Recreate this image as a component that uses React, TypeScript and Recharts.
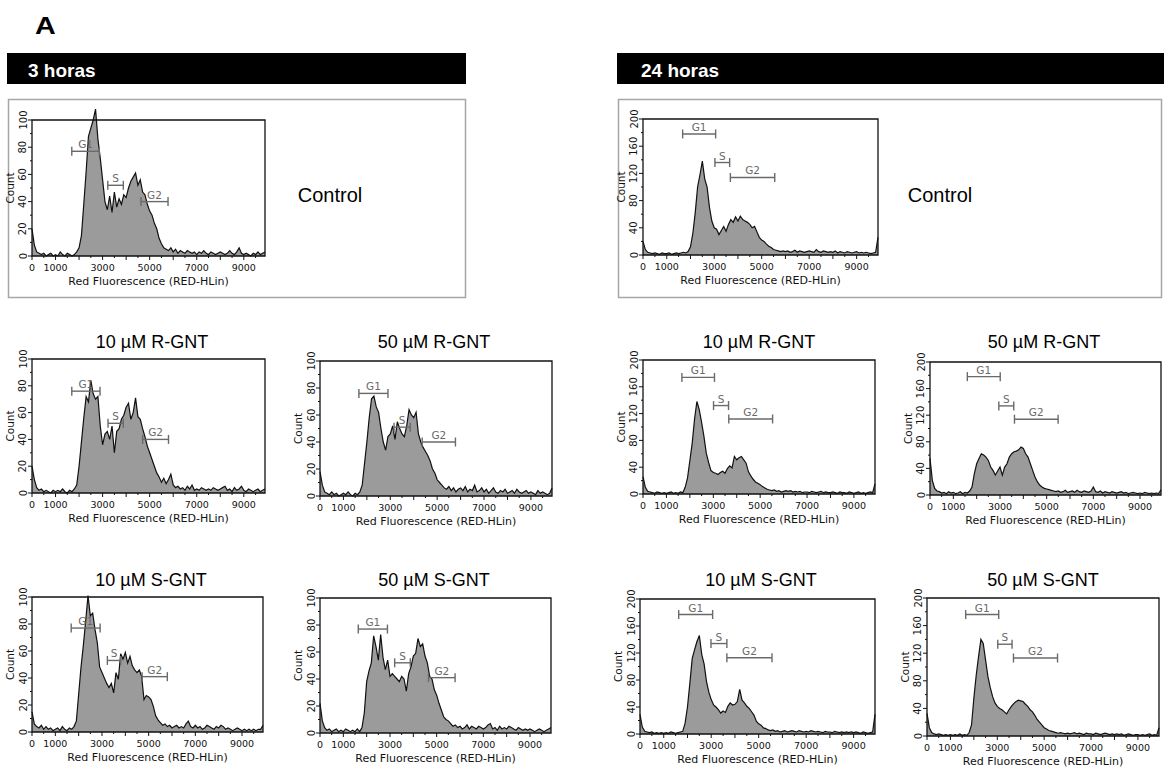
import React from 'react';
import { ComposedChart, Area, XAxis, YAxis, ReferenceArea, ReferenceLine } from 'recharts';

// ---------- shared axis data ----------
const CHANNELS = [
  0, 100, 200, 300, 400, 500, 600, 700, 800, 900,
  1000, 1100, 1200, 1300, 1400, 1500, 1600, 1700, 1800, 1900,
  2000, 2100, 2200, 2300, 2400, 2500, 2600, 2700, 2800, 2900,
  3000, 3100, 3200, 3300, 3400, 3500, 3600, 3700, 3800, 3900,
  4000, 4100, 4200, 4300, 4400, 4500, 4600, 4700, 4800, 4900,
  5000, 5100, 5200, 5300, 5400, 5500, 5600, 5700, 5800, 5900,
  6000, 6100, 6200, 6300, 6400, 6500, 6600, 6700, 6800, 6900,
  7000, 7100, 7200, 7300, 7400, 7500, 7600, 7700, 7800, 7900,
  8000, 8100, 8200, 8300, 8400, 8500, 8600, 8700, 8800, 8900,
  9000, 9100, 9200, 9300, 9400, 9500, 9600, 9700, 9800, 9900,
];
const X_MAX = 9900;
const X_TICKS = [0, 500, 1000, 1500, 2000, 2500, 3000, 3500, 4000, 4500, 5000, 5500, 6000, 6500, 7000, 7500, 8000, 8500, 9000, 9500];
const X_TICK_LABELS = [0, 1000, 3000, 5000, 7000, 9000];
const Y_TICKS_3H = [0, 10, 20, 30, 40, 50, 60, 70, 80, 90, 100];
const Y_TICKS_24H = [0, 20, 40, 60, 80, 100, 120, 140, 160, 180, 200];
const X_LABEL = 'Red Fluorescence (RED-HLin)';
const Y_LABEL = 'Count';

// ---------- histogram counts (one value per channel) ----------
const control3h = [
  20, 8, 3, 2, 1, 2, 0, 1, 2, 0,
  1, 0, 3, 1, 0, 2, 1, 0, 1, 3,
  6, 15, 38, 62, 88, 94, 100, 108, 86, 72,
  56, 40, 34, 44, 32, 47, 36, 42, 38, 45,
  43, 50, 55, 58, 61, 52, 56, 47, 45, 38,
  33, 30, 24, 20, 13, 9, 6, 5, 4, 6,
  3, 5, 2, 4, 3, 2, 4, 3, 2, 3,
  1, 3, 2, 4, 2, 1, 3, 2, 1, 2,
  3, 2, 1, 2, 4, 2, 1, 3, 6, 2,
  1, 2, 1, 0, 2, 1, 3, 1, 2, 3,
];
const control24h = [
  20, 8, 4, 3, 2, 3, 2, 1, 3, 2,
  2, 3, 1, 2, 3, 2, 3, 4, 3, 5,
  12, 32, 62, 100, 118, 138, 112, 100, 70, 50,
  40, 38, 30, 36, 42, 35, 45, 52, 48, 56,
  50, 57, 52, 50, 48, 45, 40, 42, 34, 26,
  22, 20, 16, 13, 11, 8, 7, 6, 5, 6,
  5, 6, 4, 5, 7, 4, 6, 5, 4, 5,
  6, 5, 4, 8, 5, 4, 6, 5, 4, 5,
  4, 6, 3, 5, 4, 3, 5, 4, 3, 4,
  5, 3, 4, 3, 4, 3, 2, 3, 4, 26,
];
const r10_3h = [
  20, 10, 4, 2, 3, 1, 2, 1, 0, 2,
  1, 2, 1, 3, 1, 0, 2, 1, 3, 6,
  20, 38, 56, 72, 68, 84, 74, 70, 72, 50,
  36, 44, 46, 40, 50, 30, 46, 48, 55, 58,
  64, 67, 55, 60, 71, 57, 55, 48, 42, 35,
  30, 25, 20, 15, 12, 8, 11, 7, 10, 14,
  6, 4, 5, 3, 4, 2, 5, 3, 6, 2,
  3, 2, 4, 3, 2, 3, 2, 4, 3, 2,
  3, 4, 5, 2, 3, 1, 4, 2, 3, 5,
  2, 1, 3, 2, 1, 2, 3, 1, 2, 3,
];
const r50_3h = [
  18, 8, 3, 2, 1, 3, 1, 2, 0, 1,
  2, 1, 3, 1, 0, 2, 1, 3, 8, 24,
  40, 58, 72, 74, 66, 62, 50, 40, 34, 44,
  46, 52, 42, 55, 50, 46, 44, 52, 64, 60,
  58, 62, 46, 40, 36, 33, 30, 26, 20, 17,
  12, 10, 8, 6, 5, 7, 4, 6, 3, 5,
  6, 4, 7, 3, 5, 4, 8, 3, 4, 6,
  3, 5, 2, 4, 6, 3, 2, 4, 3, 5,
  2, 3, 4, 2, 5, 3, 2, 3, 4, 2,
  3, 2, 1, 4, 2, 3, 2, 1, 2, 6,
];
const s10_3h = [
  15, 6, 4, 3, 5, 2, 4, 2, 3, 1,
  2, 3, 1, 4, 2, 1, 3, 2, 4, 8,
  28, 48, 64, 82, 101, 86, 88, 76, 66, 48,
  44, 40, 36, 33, 36, 29, 44, 39, 58, 54,
  59, 51, 56, 49, 46, 44, 46, 41, 24, 27,
  26, 24, 19, 12, 9, 7, 5, 6, 4, 5,
  3, 4, 5, 3, 4, 3, 6, 8, 4, 3,
  5, 3, 4, 2, 3, 5, 4, 3, 2, 4,
  3, 5, 4, 2, 3, 2, 1, 2, 3, 2,
  1, 2, 1, 2, 1, 2, 1, 2, 2, 5,
];
const s50_3h = [
  22, 9, 4, 2, 3, 1, 2, 3, 1, 2,
  1, 3, 2, 1, 2, 1, 3, 1, 4, 15,
  38, 46, 52, 72, 64, 54, 73, 56, 47, 54,
  42, 44, 42, 40, 38, 42, 40, 31, 44, 49,
  57, 59, 70, 64, 66, 57, 52, 42, 40, 32,
  28, 22, 17, 12, 10, 9, 7, 5, 6, 4,
  5, 3, 4, 6, 3, 5, 4, 3, 5, 4,
  3, 4, 6, 7, 3, 4, 2, 5, 3, 4,
  3, 5, 4, 3, 2, 4, 3, 2, 3, 2,
  3, 2, 1, 2, 3, 2, 1, 2, 3, 4,
];
const r10_24h = [
  26, 10, 4, 3, 2, 1, 3, 2, 1, 2,
  1, 2, 3, 1, 2, 1, 3, 2, 10, 24,
  50, 76, 112, 138, 126, 107, 86, 61, 47, 35,
  32, 31, 29, 32, 34, 31, 38, 42, 39, 56,
  51, 54, 56, 51, 46, 33, 27, 22, 18, 16,
  14, 11, 9, 7, 6, 5, 6, 4, 5, 3,
  4, 5, 4, 5, 3, 4, 3, 4, 2, 3,
  3, 2, 4, 3, 2, 3, 4, 2, 3, 2,
  2, 3, 2, 1, 3, 2, 2, 1, 3, 2,
  1, 2, 3, 1, 2, 1, 2, 3, 2, 15,
];
const r50_24h = [
  55, 22, 10, 6, 5, 3, 4, 2, 5, 3,
  4, 2, 3, 5, 2, 4, 3, 6, 12, 32,
  47, 55, 62, 60, 57, 52, 42, 37, 30, 36,
  42, 30, 42, 47, 57, 62, 65, 66, 68, 72,
  70, 62, 57, 47, 37, 27, 20, 15, 12, 10,
  9, 8, 7, 6, 5, 6, 4, 5, 7, 4,
  5, 6, 4, 7, 5, 4, 6, 5, 4, 6,
  12, 5, 4, 6, 3, 5, 4, 3, 5, 4,
  3, 4, 5, 3, 4, 2, 3, 4, 3, 2,
  3, 2, 4, 3, 2, 3, 2, 3, 2, 8,
];
const s10_24h = [
  29, 10, 4, 3, 2, 3, 1, 2, 1, 2,
  1, 2, 1, 3, 2, 1, 2, 3, 4, 16,
  40, 75, 112, 125, 137, 146, 118, 104, 78, 62,
  51, 43, 40, 36, 31, 34, 32, 41, 46, 43,
  44, 48, 66, 50, 46, 41, 38, 33, 28, 19,
  15, 13, 9, 8, 6, 5, 6, 4, 5, 3,
  4, 5, 3, 4, 5, 4, 3, 5, 4, 3,
  4, 3, 5, 4, 3, 4, 3, 2, 4, 3,
  3, 2, 4, 3, 2, 3, 2, 3, 2, 3,
  2, 3, 2, 1, 3, 2, 1, 2, 3, 29,
];
const s50_24h = [
  33, 12, 5, 3, 2, 3, 2, 1, 2, 1,
  2, 1, 2, 1, 3, 1, 2, 1, 5, 16,
  55, 88, 115, 140, 134, 110, 86, 70, 57, 48,
  43, 40, 38, 35, 32, 38, 43, 47, 50, 52,
  51, 50, 46, 43, 38, 35, 30, 24, 20, 16,
  12, 10, 8, 7, 6, 5, 4, 5, 4, 3,
  4, 3, 4, 5, 3, 4, 3, 2, 4, 3,
  3, 2, 4, 3, 2, 3, 4, 3, 2, 3,
  2, 3, 2, 3, 1, 2, 3, 2, 1, 2,
  2, 1, 2, 1, 2, 3, 1, 2, 1, 12,
];

// ---------- gate markers (from, to, level) ----------
type Gate = { name: string; from: number; to: number; y: number };
const gatesControl3h: Gate[] = [
  { name: 'G1', from: 1690, to: 2860, y: 77 },
  { name: 'S', from: 3220, to: 3880, y: 52 },
  { name: 'G2', from: 4630, to: 5780, y: 40 },
];
const gatesControl24h: Gate[] = [
  { name: 'G1', from: 1670, to: 3060, y: 178 },
  { name: 'S', from: 3030, to: 3650, y: 136 },
  { name: 'G2', from: 3680, to: 5550, y: 114 },
];
const gatesR10_3h: Gate[] = [
  { name: 'G1', from: 1690, to: 2890, y: 76 },
  { name: 'S', from: 3230, to: 3880, y: 52 },
  { name: 'G2', from: 4700, to: 5800, y: 40 },
];
const gatesR50_3h: Gate[] = [
  { name: 'G1', from: 1660, to: 2900, y: 76 },
  { name: 'S', from: 3160, to: 3850, y: 51 },
  { name: 'G2', from: 4360, to: 5780, y: 40 },
];
const gatesS10_3h: Gate[] = [
  { name: 'G1', from: 1680, to: 2920, y: 77 },
  { name: 'S', from: 3230, to: 3800, y: 53 },
  { name: 'G2', from: 4720, to: 5800, y: 41 },
];
const gatesS50_3h: Gate[] = [
  { name: 'G1', from: 1640, to: 2890, y: 77 },
  { name: 'S', from: 3200, to: 3870, y: 52 },
  { name: 'G2', from: 4650, to: 5790, y: 41 },
];
const gatesR10_24h: Gate[] = [
  { name: 'G1', from: 1660, to: 3050, y: 174 },
  { name: 'S', from: 3010, to: 3650, y: 132 },
  { name: 'G2', from: 3660, to: 5530, y: 112 },
];
const gatesR50_24h: Gate[] = [
  { name: 'G1', from: 1600, to: 3010, y: 178 },
  { name: 'S', from: 2950, to: 3590, y: 134 },
  { name: 'G2', from: 3620, to: 5490, y: 114 },
];
const gatesS10_24h: Gate[] = [
  { name: 'G1', from: 1630, to: 3060, y: 177 },
  { name: 'S', from: 2990, to: 3660, y: 134 },
  { name: 'G2', from: 3660, to: 5560, y: 113 },
];
const gatesS50_24h: Gate[] = [
  { name: 'G1', from: 1650, to: 3060, y: 176 },
  { name: 'S', from: 3020, to: 3630, y: 133 },
  { name: 'G2', from: 3690, to: 5570, y: 113 },
];

// ---------- text ----------
const FIGURE_LETTER = 'A';
const TIME_LABELS = ['3 horas', '24 horas'];
const CONTROL_LABEL = 'Control';
const TITLES = ['10 \u00B5M R-GNT', '50 \u00B5M R-GNT', '10 \u00B5M S-GNT', '50 \u00B5M S-GNT'];

// ---------- layout (pixels) ----------
const PANELS = [
  { values: control3h, gates: gatesControl3h, yMax: 100, left: 32, top: 120, w: 233, h: 136 },
  { values: control24h, gates: gatesControl24h, yMax: 200, left: 643, top: 119, w: 235, h: 136 },
  { values: r10_3h, gates: gatesR10_3h, yMax: 100, left: 32, top: 359, w: 233, h: 134 },
  { values: r50_3h, gates: gatesR50_3h, yMax: 100, left: 320, top: 361, w: 232, h: 135 },
  { values: r10_24h, gates: gatesR10_24h, yMax: 200, left: 643, top: 360, w: 232, h: 134 },
  { values: r50_24h, gates: gatesR50_24h, yMax: 200, left: 930, top: 362, w: 231, h: 133 },
  { values: s10_3h, gates: gatesS10_3h, yMax: 100, left: 32, top: 597, w: 231, h: 135 },
  { values: s50_3h, gates: gatesS50_3h, yMax: 100, left: 320, top: 598, w: 231, h: 135 },
  { values: s10_24h, gates: gatesS10_24h, yMax: 200, left: 640, top: 599, w: 235, h: 135 },
  { values: s50_24h, gates: gatesS50_24h, yMax: 200, left: 927, top: 598, w: 232, h: 138 },
];
const TITLE_POS = [
  { x: 152, y: 348 }, { x: 434, y: 348 }, { x: 759, y: 348 }, { x: 1044, y: 348 },
  { x: 151, y: 586 }, { x: 434, y: 586 }, { x: 761, y: 586 }, { x: 1043, y: 586 },
];
const TITLE_ORDER = [0, 1, 0, 1, 2, 3, 2, 3];

const AXIS_FONT = "'DejaVu Sans', Verdana, sans-serif";
const TEXT_FONT = "'Liberation Sans', Arial, sans-serif";
const INK = '#111111';
const GATE = '#6a6a6a';
const FILL = '#9b9b9b';

const ML = 30;
const MR = 1;
const MT = 2;
const MB = 36;
const HEAD = 14;

const XTick = (props: any) => {
  const { x, y, payload } = props;
  const v = payload.value as number;
  const major = v % 1000 === 0;
  return (
    <g>
      <line x1={x} x2={x} y1={y} y2={y + (major ? 4 : 2)} stroke={INK} strokeWidth={1} />
      {X_TICK_LABELS.includes(v) && (
        <text x={x} y={y + 14.5} textAnchor="middle" fontSize={9.5} fontFamily={AXIS_FONT} fill={INK}>
          {v}
        </text>
      )}
    </g>
  );
};

const makeYTick = (step: number) => (props: any) => {
  const { x, y, payload } = props;
  const v = payload.value as number;
  const major = v % step === 0;
  const tx = x - 9;
  return (
    <g>
      <line x1={x} x2={x - (major ? 4 : 2)} y1={y} y2={y} stroke={INK} strokeWidth={1} />
      {major && (
        <text
          x={tx}
          y={y}
          transform={`rotate(-90 ${tx} ${y})`}
          textAnchor="middle"
          dominantBaseline="central"
          fontSize={10}
          fontFamily={AXIS_FONT}
          fill={INK}
        >
          {v}
        </text>
      )}
    </g>
  );
};

function HistPanel({ p }: { p: any }) {
  const data = CHANNELS.map((c, i) => ({ x: c, count: p.values[i] }));
  const yTop = p.yMax * (1 + HEAD / p.h);
  const is3h = p.yMax === 100;
  const yTicks = is3h ? Y_TICKS_3H : Y_TICKS_24H;
  const yTick = makeYTick(is3h ? 20 : 40);
  const cap = (4.5 / p.h) * p.yMax;
  const chartW = ML + p.w + MR;
  const chartH = MT + HEAD + p.h + MB;
  const countX = ML - 22;
  const countY = MT + HEAD + p.h / 2;
  return (
    <div style={{ position: 'absolute', left: p.left - ML, top: p.top - HEAD - MT, width: chartW, height: chartH, fontFamily: AXIS_FONT }}>
      <ComposedChart width={chartW} height={chartH} data={data} margin={{ top: MT, right: MR, bottom: 0, left: 0 }}>
        <XAxis
          dataKey="x"
          type="number"
          domain={[0, X_MAX]}
          ticks={X_TICKS}
          interval={0}
          tick={XTick}
          tickLine={false}
          axisLine={false}
          tickSize={0}
          tickMargin={0}
          height={MB}
          label={{ value: X_LABEL, position: 'insideBottom', offset: 7, fontSize: 11, fill: INK, fontFamily: AXIS_FONT }}
        />
        <YAxis
          type="number"
          domain={[0, yTop]}
          ticks={yTicks}
          interval={0}
          tick={yTick}
          tickLine={false}
          axisLine={false}
          tickSize={0}
          tickMargin={0}
          width={ML}
        />
        <Area
          type="linear"
          dataKey="count"
          stroke={INK}
          strokeWidth={1.2}
          fill={FILL}
          fillOpacity={1}
          dot={false}
          activeDot={false}
          isAnimationActive={false}
        />
        <ReferenceArea x1={0} x2={X_MAX} y1={0} y2={p.yMax} fill="none" fillOpacity={0} stroke={INK} strokeWidth={1.3} />
        {p.gates.map((g: Gate) => (
          <React.Fragment key={g.name}>
            <ReferenceLine
              segment={[{ x: g.from, y: g.y }, { x: g.to, y: g.y }]}
              stroke={GATE}
              strokeWidth={1.4}
              label={{ value: g.name, position: 'top', offset: 3, fontSize: 10.5, fill: GATE, fontFamily: AXIS_FONT }}
            />
            <ReferenceLine segment={[{ x: g.from, y: g.y - cap }, { x: g.from, y: g.y + cap }]} stroke={GATE} strokeWidth={1.4} />
            <ReferenceLine segment={[{ x: g.to, y: g.y - cap }, { x: g.to, y: g.y + cap }]} stroke={GATE} strokeWidth={1.4} />
          </React.Fragment>
        ))}
      </ComposedChart>
      <svg width={20} height={chartH} style={{ position: 'absolute', left: 0, top: 0, pointerEvents: 'none' }}>
        <text
          x={countX}
          y={countY}
          transform={`rotate(-90 ${countX} ${countY})`}
          textAnchor="middle"
          dominantBaseline="central"
          fontSize={10.5}
          fontFamily={AXIS_FONT}
          fill={INK}
        >
          {Y_LABEL}
        </text>
      </svg>
    </div>
  );
}

export default function App() {
  return (
    <div style={{ position: 'absolute', left: 0, top: 0, width: 1164, height: 771, overflow: 'hidden', background: '#fff' }}>
      <svg width={1164} height={771} style={{ position: 'absolute', left: 0, top: 0 }}>
        <g transform="translate(35 34) scale(1.25 1)">
          <text x={0} y={0} fontFamily={TEXT_FONT} fontWeight="bold" fontSize={23} fill="#000">
            {FIGURE_LETTER}
          </text>
        </g>
        <rect x={7} y={53} width={459} height={31} fill="#000" />
        <text x={28} y={77} fill="#fff" fontFamily={TEXT_FONT} fontWeight="bold" fontSize={19}>
          {TIME_LABELS[0]}
        </text>
        <rect x={617} y={53} width={547} height={31} fill="#000" />
        <text x={641} y={77} fill="#fff" fontFamily={TEXT_FONT} fontWeight="bold" fontSize={19}>
          {TIME_LABELS[1]}
        </text>
        <rect x={8.5} y={99.5} width={457} height={198} fill="none" stroke="#a6a6a6" strokeWidth={1.5} />
        <rect x={618.5} y={99.5} width={543} height={198} fill="none" stroke="#a6a6a6" strokeWidth={1.5} />
        <text x={330} y={202} textAnchor="middle" fontFamily={TEXT_FONT} fontSize={20} fill="#000">
          {CONTROL_LABEL}
        </text>
        <text x={940} y={202} textAnchor="middle" fontFamily={TEXT_FONT} fontSize={20} fill="#000">
          {CONTROL_LABEL}
        </text>
        {TITLE_POS.map((t, i) => (
          <text key={i} x={t.x} y={t.y} textAnchor="middle" fontFamily={TEXT_FONT} fontSize={18} fill="#000">
            {TITLES[TITLE_ORDER[i]]}
          </text>
        ))}
      </svg>
      {PANELS.map((p, i) => (
        <HistPanel key={i} p={p} />
      ))}
    </div>
  );
}
